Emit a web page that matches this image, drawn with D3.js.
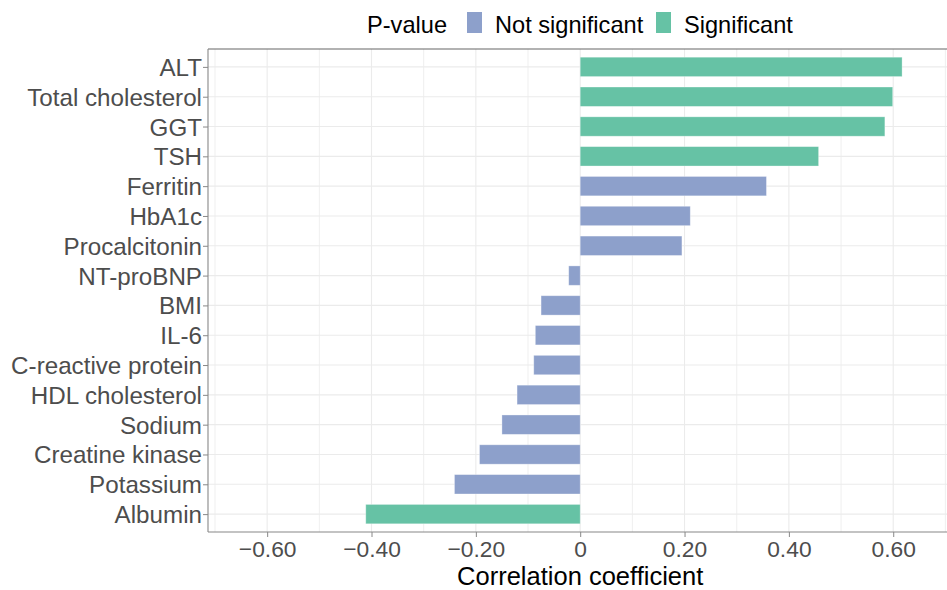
<!DOCTYPE html>
<html><head><meta charset="utf-8">
<script src="https://cdn.jsdelivr.net/npm/d3@7"></script>
<style>body{margin:0;background:#fff;} svg{display:block;font-family:"Liberation Sans",Arial,sans-serif;}</style>
</head><body>
<svg id="c" width="947" height="590"></svg>
<script>
const categories = ["ALT","Total cholesterol","GGT","TSH","Ferritin","HbA1c","Procalcitonin","NT-proBNP","BMI","IL-6","C-reactive protein","HDL cholesterol","Sodium","Creatine kinase","Potassium","Albumin"];
const values = [0.617,0.599,0.584,0.457,0.357,0.211,0.195,-0.022,-0.075,-0.086,-0.089,-0.121,-0.150,-0.193,-0.241,-0.411];
const significance = ["Significant","Significant","Significant","Significant","Not significant","Not significant","Not significant","Not significant","Not significant","Not significant","Not significant","Not significant","Not significant","Not significant","Not significant","Significant"];
const xTicks = [-0.6,-0.4,-0.2,0,0.2,0.4,0.6];
const xTickLabels = ["\u22120.60","\u22120.40","\u22120.20","0","0.20","0.40","0.60"];
const legendLevels = ["Not significant","Significant"];
const legendColors = ["#8da0cb","#66c2a5"];

const svg = d3.select("#c");
const L = 208, R = 948, T = 49, B = 532;
const x = d3.scaleLinear().domain([-0.7134, 0.705]).range([L, R]);
const step = (B - T) / (categories.length + 0.2);
const y = d3.scaleBand().domain(categories).range([T + 0.6*step - step/2, B - 0.6*step + step/2]).paddingInner(0.35).paddingOuter(0.175);
const yc = d => y(d) + y.bandwidth()/2;
const color = d3.scaleOrdinal().domain(legendLevels).range(legendColors);

// grid
const g = svg.append("g");
const gridX = d3.range(-7, 8).map(i => i/10);
g.selectAll("line.vx").data(gridX).enter().append("line")
  .attr("x1", d => x(d)).attr("x2", d => x(d)).attr("y1", T).attr("y2", B)
  .attr("stroke", "#ebebeb").attr("stroke-width", (d,i) => (i % 2 === 1) ? 1.1 : 0.8);
g.selectAll("line.hy").data(categories).enter().append("line")
  .attr("x1", L).attr("x2", R).attr("y1", d => yc(d)).attr("y2", d => yc(d))
  .attr("stroke", "#ebebeb").attr("stroke-width", 1.1);

// bars
const data = categories.map((c,i) => ({c, v: values[i], s: significance[i]}));
svg.append("g").selectAll("rect").data(data).enter().append("rect")
  .attr("x", d => x(Math.min(0, d.v))).attr("width", d => Math.abs(x(d.v) - x(0)))
  .attr("y", d => y(d.c)).attr("height", y.bandwidth())
  .attr("fill", d => color(d.s)).attr("stroke", "rgba(255,255,255,0.4)").attr("stroke-width", 0.8);

// panel border
svg.append("line").attr("x1", L).attr("x2", R).attr("y1", T).attr("y2", T).attr("stroke", "#666").attr("stroke-width", 1.1);
svg.append("line").attr("x1", L).attr("x2", R).attr("y1", B).attr("y2", B).attr("stroke", "#888").attr("stroke-width", 1.1);
svg.append("line").attr("x1", L).attr("x2", L).attr("y1", T).attr("y2", B).attr("stroke", "#888").attr("stroke-width", 1.1);

// y axis
const ya = svg.append("g").attr("transform", `translate(${L},0)`)
  .call(d3.axisLeft(d3.scalePoint().domain(categories).range([yc(categories[0]), yc(categories[categories.length-1])])).tickSize(5).tickPadding(1));
ya.select(".domain").remove();
ya.selectAll(".tick line").attr("stroke", "#888");
ya.selectAll(".tick text").attr("fill", "#4d4d4d").style("font-size", "24.2px").style("font-family", "Liberation Sans, Arial, sans-serif").attr("dy", "0.35em");

// x axis
const xa = svg.append("g").attr("transform", `translate(0,${B})`)
  .call(d3.axisBottom(x).tickValues(xTicks).tickFormat((d,i) => xTickLabels[i]).tickSize(5).tickPadding(3.5));
xa.select(".domain").remove();
xa.selectAll(".tick line").attr("stroke", "#888");
xa.selectAll(".tick text").attr("fill", "#4d4d4d").style("font-size", "22.8px").style("font-family", "Liberation Sans, Arial, sans-serif");

svg.append("text").attr("x", x(0)).attr("y", 584.5).attr("text-anchor", "middle")
  .style("font-size", "25.5px").attr("fill", "#000").text("Correlation coefficient");

// legend
const lg = svg.append("g");
lg.append("text").attr("x", 367).attr("y", 33).style("font-size", "23.6px").attr("fill", "#000").text("P-value");
const keyX = [467, 656], textX = [495, 684];
legendLevels.forEach((lv, i) => {
  lg.append("rect").attr("x", keyX[i]).attr("y", 12).attr("width", 15).attr("height", 21).attr("fill", legendColors[i]);
  lg.append("text").attr("x", textX[i]).attr("y", 33).style("font-size", "23.6px").attr("fill", "#000").text(lv);
});
</script>
</body></html>
